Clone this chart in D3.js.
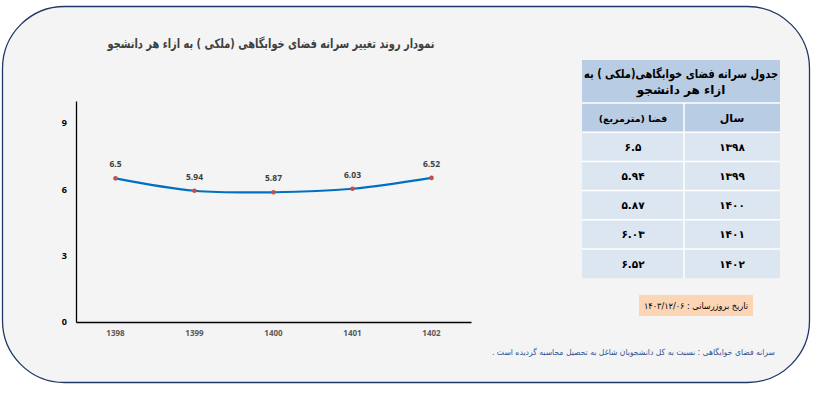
<!DOCTYPE html>
<html>
<head>
<meta charset="utf-8">
<script src="https://cdn.jsdelivr.net/npm/d3@7"></script>
<style>
body { margin:0; background:#fff; }
</style>
</head>
<body>
<script>
var years = ["1398","1399","1400","1401","1402"];
var values = [6.5, 5.94, 5.87, 6.03, 6.52];
var yTicks = [0, 3, 6, 9];
var yearsFa = ["۱۳۹۸","۱۳۹۹","۱۴۰۰","۱۴۰۱","۱۴۰۲"];
var valuesFa = ["۶.۵","۵.۹۴","۵.۸۷","۶.۰۳","۶.۵۲"];

var title = "نمودار روند تغییر  سرانه فضای خوابگاهی (ملکی ) به ازاء هر دانشجو";
var tableTitle = ["جدول سرانه فضای خوابگاهی(ملکی ) به", "ازاء هر دانشجو"];
var tableHead = ["فضا (مترمربع)", "سال"];
var updateText = "تاریخ بروزرسانی : ۱۴۰۳/۱۲/۰۶";
var noteText = "سرانه فضای خوابگاهی : نسبت به کل دانشجویان شاغل به تحصیل محاسبه گردیده است .";

var faFont = "'DejaVu Sans', sans-serif";
var numFont = "'Open Sans', 'DejaVu Sans', sans-serif";

var svg = d3.select("body").append("svg").attr("width",820).attr("height",393);

// frame
svg.append("rect").attr("x",2.5).attr("y",6.5).attr("width",807).attr("height",376)
  .attr("rx",62).attr("ry",62)
  .attr("fill","#f4f4f4").attr("stroke","#1f3864").attr("stroke-width",1.3);

// title
svg.append("text").attr("x",271).attr("y",48).attr("text-anchor","middle")
  .attr("direction","rtl").attr("font-family",faFont).attr("font-weight","bold")
  .attr("font-size",13).attr("fill","#404040")
  .attr("textLength",327).attr("lengthAdjust","spacingAndGlyphs").text(title);

var margin = {left:76, top:101};
var width = 395, height = 221;

var x = d3.scaleBand().domain(years).range([0,width]);
var y = d3.scaleLinear().domain([0,10]).range([height,0]);

var chartGroup = svg.append("g").attr("transform","translate("+margin.left+","+margin.top+")");

var yAxis = d3.axisLeft(y).tickValues(yTicks).tickSize(0).tickPadding(9);
var xAxis = d3.axisBottom(x).tickSize(0).tickPadding(8);

var gy = chartGroup.append("g").call(yAxis);
gy.select(".domain").attr("stroke","#000").attr("stroke-width",1.3);
gy.selectAll("text").attr("font-family",numFont).attr("font-weight","bold")
  .attr("font-size",9).attr("fill","#000");

var gx = chartGroup.append("g").attr("transform","translate(0,"+height+")").call(xAxis);
gx.select(".domain").attr("stroke","#000").attr("stroke-width",1.3);
gx.selectAll("text").attr("font-family",numFont).attr("font-weight","bold")
  .attr("font-size",8).attr("fill","#595959");

var line = d3.line()
  .x(function(d,i){ return x(years[i]) + x.bandwidth()/2; })
  .y(function(d){ return y(d); })
  .curve(d3.curveCatmullRom);

chartGroup.append("path").attr("d",line(values)).attr("fill","none")
  .attr("stroke","#0070c0").attr("stroke-width",2.2);

chartGroup.selectAll(".dot").data(values).enter().append("circle")
  .attr("cx",function(d,i){ return x(years[i]) + x.bandwidth()/2; })
  .attr("cy",function(d){ return y(d); })
  .attr("r",2.3).attr("fill","#c0504d");

chartGroup.selectAll(".lbl").data(values).enter().append("text")
  .attr("x",function(d,i){ return x(years[i]) + x.bandwidth()/2; })
  .attr("y",function(d){ return y(d) - 11; })
  .attr("text-anchor","middle").attr("font-family",numFont).attr("font-weight","bold")
  .attr("font-size",8.5).attr("fill","#404040")
  .text(function(d){ return d; });

// table
var tx = 582, tw = 198, colSplit = 684;
var rowH = 29.2, t0 = 60, titleH = 43;
var tbl = svg.append("g");
tbl.append("rect").attr("x",tx).attr("y",t0).attr("width",tw).attr("height",titleH).attr("fill","#b8cce4");
tableTitle.forEach(function(s,i){
  var t = tbl.append("text").attr("x",tx+tw/2).attr("y",t0+18+i*16).attr("text-anchor","middle")
    .attr("direction","rtl").attr("font-family",faFont).attr("font-weight","bold")
    .attr("font-size",12).attr("fill","#000").text(s);
  if (i == 0) t.attr("textLength",194).attr("lengthAdjust","spacingAndGlyphs");
});
var hy = t0+titleH;
tbl.append("rect").attr("x",tx).attr("y",hy).attr("width",tw).attr("height",rowH).attr("fill","#b8cce4");
tbl.append("line").attr("x1",tx).attr("x2",tx+tw).attr("y1",hy).attr("y2",hy).attr("stroke","#fff").attr("stroke-width",1.5);
tbl.append("text").attr("x",(tx+colSplit)/2).attr("y",hy+rowH/2+4).attr("text-anchor","middle")
  .attr("direction","rtl").attr("font-family",faFont).attr("font-weight","bold").attr("font-size",9.5).text(tableHead[0]);
tbl.append("text").attr("x",(colSplit+tx+tw)/2).attr("y",hy+rowH/2+4).attr("text-anchor","middle")
  .attr("direction","rtl").attr("font-family",faFont).attr("font-weight","bold").attr("font-size",11).text(tableHead[1]);

var rows = tbl.selectAll(".row").data(yearsFa).enter().append("g")
  .attr("transform",function(d,i){ return "translate(0,"+(hy+rowH*(i+1))+")"; });
rows.append("rect").attr("x",tx).attr("width",tw).attr("height",rowH).attr("fill","#dce6f1");
rows.append("line").attr("x1",tx).attr("x2",tx+tw).attr("stroke","#fff").attr("stroke-width",1.5);
rows.append("text").attr("x",(tx+colSplit)/2).attr("y",rowH/2+4).attr("text-anchor","middle")
  .attr("font-family",faFont).attr("font-weight","bold").attr("font-size",10.5)
  .text(function(d,i){ return valuesFa[i]; });
rows.append("text").attr("x",(colSplit+tx+tw)/2).attr("y",rowH/2+4).attr("text-anchor","middle")
  .attr("font-family",faFont).attr("font-weight","bold").attr("font-size",10.5)
  .text(function(d){ return d; });
tbl.append("line").attr("x1",colSplit).attr("x2",colSplit).attr("y1",hy).attr("y2",hy+rowH*6)
  .attr("stroke","#fff").attr("stroke-width",1.5);

// update box
svg.append("rect").attr("x",639).attr("y",295).attr("width",114).attr("height",21).attr("fill","#fcd5b4");
svg.append("text").attr("x",696).attr("y",309).attr("text-anchor","middle").attr("direction","rtl")
  .attr("font-family",faFont).attr("font-size",9).attr("fill","#000")
  .attr("textLength",104).attr("lengthAdjust","spacingAndGlyphs").text(updateText);

// footnote
svg.append("text").attr("x",775).attr("y",355).attr("text-anchor","start").attr("direction","rtl")
  .attr("font-family",faFont).attr("font-size",8.5).attr("fill","#2f5597")
  .attr("textLength",283).attr("lengthAdjust","spacingAndGlyphs").text(noteText);
</script>
</body>
</html>
